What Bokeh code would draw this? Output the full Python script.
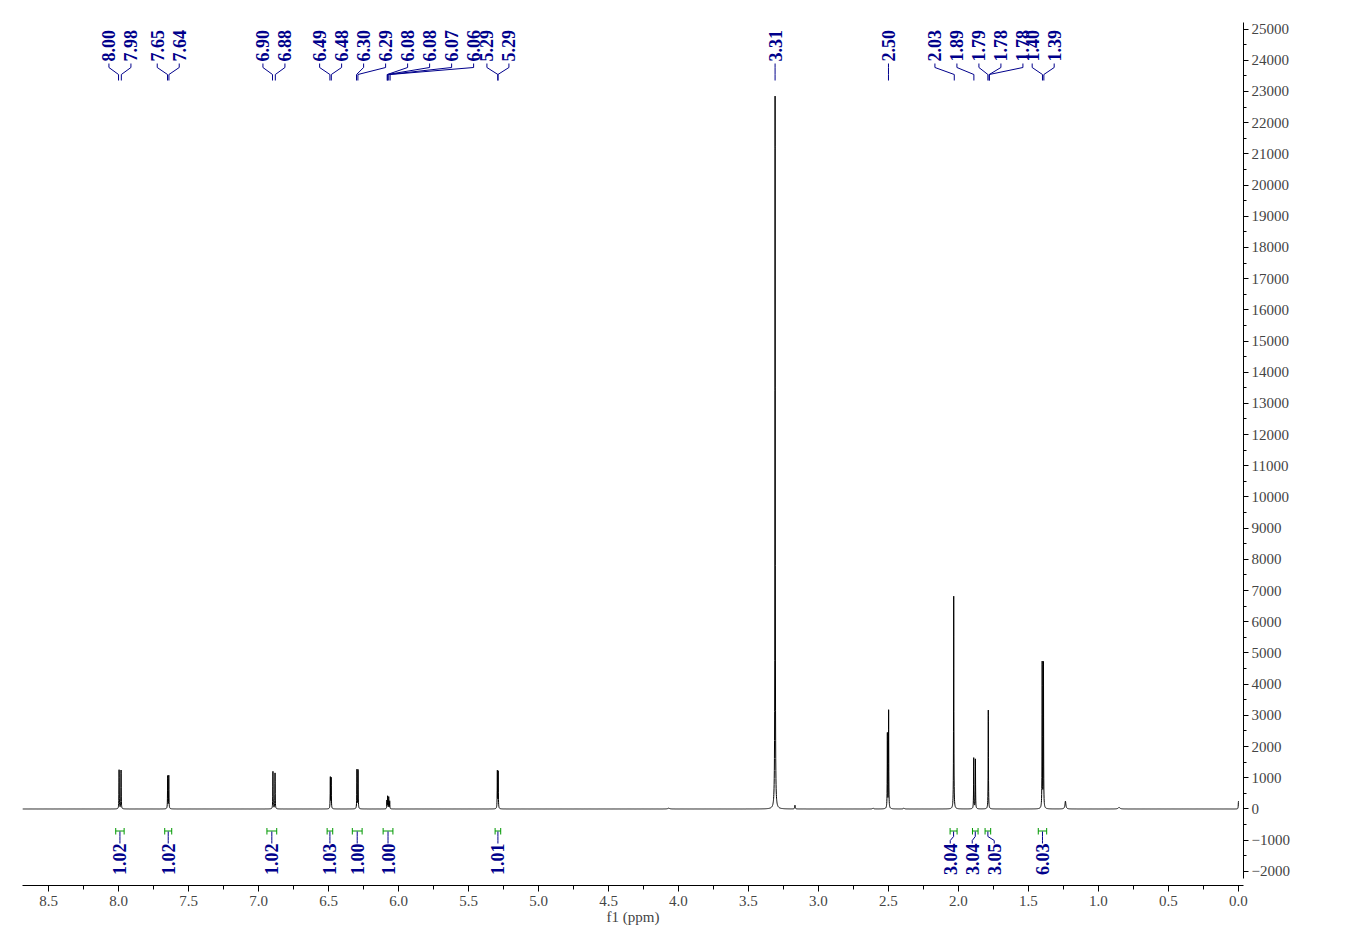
import numpy as np
from bokeh.plotting import figure
from bokeh.models import Range1d, SingleIntervalTicker, PrintfTickFormatter
from bokeh.embed import file_html
from bokeh.resources import INLINE
from bokeh.core.properties import value

# ---------------- data ----------------
PEAK_PPM = [7.996, 7.982, 7.649, 7.641, 6.897, 6.882, 6.487, 6.481,
            6.297, 6.289, 6.083, 6.078, 6.070, 6.063, 5.294, 5.288,
            4.070, 3.310, 3.168, 2.610, 2.508, 2.499, 2.390, 2.034,
            1.891, 1.879, 1.787, 1.402, 1.393, 1.236, 0.853, 0.000]
PEAK_HEIGHT = [1250, 1240, 1050, 1060, 1200, 1150, 1000, 980,
               1250, 1240, 260, 400, 380, 250, 1200, 1180,
               25, 22850, 120, 30, 2400, 3140, 30, 6820,
               1630, 1590, 3170, 4660, 4650, 250, 50, 250]
PEAK_HWHM = [0.0012, 0.0012, 0.0012, 0.0012, 0.0012, 0.0012, 0.0012, 0.0012,
             0.0012, 0.0012, 0.0012, 0.0012, 0.0012, 0.0012, 0.0012, 0.0012,
             0.008, 0.0013, 0.002, 0.004, 0.0012, 0.0012, 0.004, 0.0012,
             0.0012, 0.0012, 0.0012, 0.0012, 0.0012, 0.004, 0.008, 0.0015]

PEAK_LABEL_GROUPS = [
    ["8.00", "7.98"], ["7.65", "7.64"], ["6.90", "6.88"], ["6.49", "6.48"],
    ["6.30", "6.29"], ["6.08", "6.08", "6.07", "6.06"], ["5.29", "5.29"],
    ["3.31"], ["2.50"], ["2.03", "1.89", "1.79", "1.78", "1.78"], ["1.40", "1.39"],
]

INT_FROM = [8.02, 7.67, 6.94, 6.51, 6.33, 6.11, 5.31, 2.06, 1.90, 1.81, 1.43]
INT_TO = [7.96, 7.62, 6.87, 6.47, 6.26, 6.04, 5.27, 2.01, 1.86, 1.77, 1.37]
INT_VALUE = ["1.02", "1.02", "1.02", "1.03", "1.00", "1.00", "1.01",
             "3.04", "3.04", "3.05", "6.03"]

X_TICK_STEP = 0.5
Y_TICK_STEP = 1000

# ---------------- geometry ----------------
X0, X1 = 8.686, -0.036          # left / right of frame (ppm, reversed)
Y0, Y1 = -2452, 25593           # bottom / top of frame
FW, FH = 1221, 875
PPM_PER_PX = (X0 - X1) / FW


def yv(fy):
    """value at fy pixels below the frame top"""
    return Y1 - fy * (Y1 - Y0) / FH


def xpx(ppm):
    return (X0 - ppm) / PPM_PER_PX


def ppm_at(px):
    return X0 - px * PPM_PER_PX


# spectrum from the read peak list
grid = np.concatenate([np.linspace(X0, 0.0, 12000), np.array(PEAK_PPM)])
grid = np.sort(grid[(grid <= X0) & (grid >= 0.0)])[::-1]
spec = np.zeros_like(grid)
for c, h, w in zip(PEAK_PPM, PEAK_HEIGHT, PEAK_HWHM):
    spec += h / (1.0 + ((grid - c) / w) ** 2)

p = figure(frame_width=FW, frame_height=FH, output_backend="svg",
           toolbar_location=None, x_range=Range1d(X0, X1),
           y_range=Range1d(Y0, Y1), y_axis_location="right",
           min_border_left=22, min_border_top=10, min_border_right=80,
           min_border_bottom=50, background_fill_color="white",
           border_fill_color="white")
p.outline_line_color = None
p.grid.visible = False

p.line(grid, spec, line_color="black", line_width=1)

NAVY = "#00008B"
GREEN = "#009900"
LABEL_FONT = value("Liberation Serif")

# ---- peak labels (top) ----
SP = 22.0
label_x, label_t, label_target = [], [], []
prev_last = -1e9
for grp in PEAK_LABEL_GROUPS:
    targets = [float(t) for t in grp]
    centre = np.mean([xpx(t) for t in targets])
    n = len(grp)
    first = centre - SP * (n - 1) / 2
    if first < prev_last + 8:
        first = prev_last + SP
    for i, (t, tg) in enumerate(zip(grp, targets)):
        label_x.append(ppm_at(first + i * SP))
        label_t.append(t)
        label_target.append(tg)
    prev_last = first + (n - 1) * SP

p.text(x=label_x, y=[yv(51)] * len(label_x), text=label_t, angle=np.pi / 2,
       text_align="left", text_baseline="middle", text_font=LABEL_FONT,
       text_font_style="bold", text_font_size="18px", text_color=NAVY)
xs, ys = [], []
for lx, tg in zip(label_x, label_target):
    xs.append([lx, lx, tg, tg])
    ys.append([yv(53), yv(57), yv(64), yv(70)])
p.multi_line(xs, ys, line_color=NAVY, line_width=1)

# ---- integrals (bottom) ----
centres = [xpx((a + b) / 2) for a, b in zip(INT_FROM, INT_TO)]
clusters = [[i] for i in range(len(centres))]


def cl_pos(cl):
    m = np.mean([centres[i] for i in cl])
    return [m + SP * (k - (len(cl) - 1) / 2) for k in range(len(cl))]


changed = True
while changed:
    changed = False
    for k in range(len(clusters) - 1):
        a, b = cl_pos(clusters[k]), cl_pos(clusters[k + 1])
        if b[0] - a[-1] < SP:
            clusters[k] = clusters[k] + clusters[k + 1]
            del clusters[k + 1]
            changed = True
            break
int_lx = []
for cl in clusters:
    int_lx += cl_pos(cl)
int_lx = [ppm_at(v) for v in int_lx]

bx, by = [], []
for a, b in zip(INT_FROM, INT_TO):
    bx += [[a, b], [a, a], [b, b]]
    by += [[yv(820.5), yv(820.5)], [yv(817.5), yv(824)], [yv(817.5), yv(824)]]
p.multi_line(bx, by, line_color=GREEN, line_width=1)

cx, cy = [], []
for a, b, lx in zip(INT_FROM, INT_TO, int_lx):
    c = (a + b) / 2
    cx.append([c, c, lx, lx])
    cy.append([yv(821), yv(826), yv(830), yv(833)])
p.multi_line(cx, cy, line_color=NAVY, line_width=1)
p.text(x=int_lx, y=[yv(833)] * len(int_lx), text=INT_VALUE, angle=np.pi / 2,
       text_align="right", text_baseline="middle", text_font=LABEL_FONT,
       text_font_style="bold", text_font_size="18px", text_color=NAVY)

# ---- axes ----
xa = p.xaxis[0]
xa.ticker = SingleIntervalTicker(interval=X_TICK_STEP, num_minor_ticks=2)
xa.formatter = PrintfTickFormatter(format="%.1f")
xa.axis_label = "f1 (ppm)"
xa.axis_label_text_font = "Liberation Serif"
xa.axis_label_text_font_style = "normal"
xa.axis_label_text_font_size = "15px"
xa.axis_label_standoff = 0
xa.major_label_text_font = "Liberation Serif"
xa.major_label_text_font_size = "15px"
xa.major_label_standoff = 4
xa.major_tick_out = 6
xa.major_tick_in = 0
xa.minor_tick_out = 4
xa.minor_tick_in = 0
xa.axis_line_color = "black"

ya = p.yaxis[0]
ya.ticker = SingleIntervalTicker(interval=Y_TICK_STEP, num_minor_ticks=2)
ya.bounds = (-2230, 25200)
ya.major_label_text_font = "Liberation Serif"
ya.major_label_text_font_size = "15px"
ya.major_label_standoff = 3
ya.major_tick_out = 5
ya.major_tick_in = 0
ya.minor_tick_out = 3
ya.minor_tick_in = 0
ya.axis_line_color = "black"

open("out.html", "w").write(file_html(p, INLINE))
